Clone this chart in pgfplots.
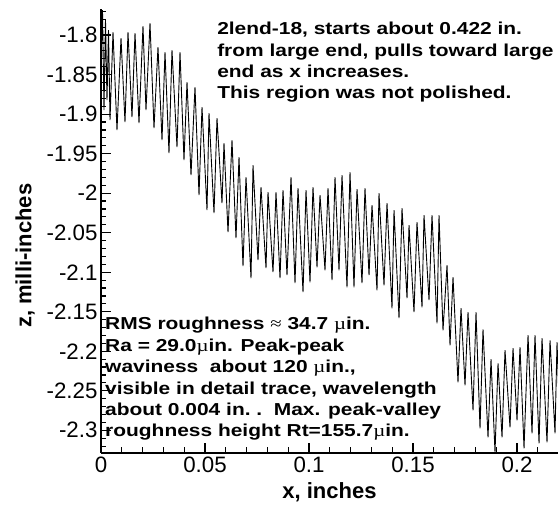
\documentclass[border=0pt]{standalone}
\usepackage{pgfplots}
\pgfplotsset{compat=1.18}
\usepackage{fontspec}
\setmainfont{Liberation Sans}
\newfontfamily\annfont[FakeStretch=1.21]{Liberation Sans}
\newfontfamily\symf[FakeStretch=1.2]{Liberation Serif}
\newcommand{\mus}{{\symf\mdseries µ}}
\newcommand{\apx}{{\symf\mdseries ≈}}
\begin{document}
\begin{tikzpicture}
\begin{axis}[name=ax, scale only axis, width=457pt, height=444pt,
  xmin=0, xmax=0.2197, ymin=-2.3287, ymax=-1.767,
  axis x line*=bottom, axis y line*=left,
  axis line style={-, line width=2pt},
  tick align=inside, major tick length=10pt, minor tick length=5.5pt,
  every tick/.style={black, line width=1.2pt},
  xtick={0,0.05,0.1,0.15,0.2}, xticklabels={0,0.05,0.1,0.15,0.2},
  ytick={-2.3,-2.25,-2.2,-2.15,-2.1,-2.05,-2,-1.95,-1.9,-1.85,-1.8},
  yticklabels={-2.3,-2.25,-2.2,-2.15,-2.1,-2.05,-2,-1.95,-1.9,-1.85,-1.8},
  minor xtick={0.01,0.02,0.03,0.04,0.06,0.07,0.08,0.09,0.11,0.12,0.13,0.14,0.16,0.17,0.18,0.19,0.21},
  minor ytick={-2.32,-2.31,-2.29,-2.28,-2.27,-2.26,-2.24,-2.23,-2.22,-2.21,-2.19,-2.18,-2.17,-2.16,-2.14,-2.13,-2.12,-2.11,-2.09,-2.08,-2.07,-2.06,-2.04,-2.03,-2.02,-2.01,-1.99,-1.98,-1.97,-1.96,-1.94,-1.93,-1.92,-1.91,-1.89,-1.88,-1.87,-1.86,-1.84,-1.83,-1.82,-1.81,-1.79,-1.78,-1.77},
  ticklabel style={font=\fontsize{22.3}{25}\selectfont},
  xlabel={x, inches}, ylabel={z, milli-inches},
  every axis x label/.style={at={(axis description cs:0.5,-0.088)}, anchor=center,
     font=\bfseries\fontsize{22}{25}\selectfont},
  every axis y label/.style={at={(axis description cs:-0.166,0.444)}, rotate=90, anchor=center,
     font=\bfseries\fontsize{22}{25}\selectfont},
  clip=true,
]
\addplot[black, line width=0.9pt] coordinates {
(0,-1.8316) (0.00072,-1.7684) (0.00144,-1.8949) (0.00216,-1.7810) (0.00288,-1.8823)
(0.00361,-1.7937) (0.00433,-1.9076) (0.00577,-1.7962) (0.00769,-1.9203) (0.00962,-1.8038)
(0.01154,-1.9101) (0.01298,-1.7962) (0.01490,-1.9038) (0.01635,-1.7975) (0.01827,-1.9114)
(0.02019,-1.7886) (0.02163,-1.8949) (0.02356,-1.7848) (0.02548,-1.9177) (0.02740,-1.8152)
(0.02933,-1.9329) (0.03077,-1.8215) (0.03269,-1.9494) (0.03413,-1.8190) (0.03654,-1.9418)
(0.03798,-1.8215) (0.03990,-1.9582) (0.04135,-1.8595) (0.04327,-1.9772) (0.04519,-1.8658)
(0.04712,-2.0025) (0.04856,-1.8911) (0.05096,-2.0215) (0.05192,-1.8987) (0.05433,-2.0253)
(0.05577,-1.9051) (0.05817,-2.0127) (0.05913,-1.9367) (0.06106,-2.0494) (0.06298,-1.9329)
(0.06490,-2.0570) (0.06635,-1.9544) (0.06827,-2.0924) (0.06971,-1.9797) (0.07212,-2.1076)
(0.07308,-1.9646) (0.07548,-2.0848) (0.07692,-1.9924) (0.07933,-2.0949) (0.08029,-1.9987)
(0.08269,-2.1000) (0.08413,-1.9987) (0.08606,-2.1076) (0.08750,-1.9962) (0.08942,-2.1038)
(0.09135,-1.9797) (0.09327,-2.1139) (0.09471,-1.9937) (0.09712,-2.1253) (0.09856,-1.9962)
(0.10048,-2.1127) (0.10192,-1.9924) (0.10385,-2.0937) (0.10529,-2.0025) (0.10769,-2.0975)
(0.10913,-1.9937) (0.11106,-2.1101) (0.11250,-1.9797) (0.11442,-2.0975) (0.11587,-1.9772)
(0.11827,-2.1190) (0.11971,-1.9734) (0.12163,-2.1190) (0.12308,-1.9949) (0.12548,-2.1139)
(0.12692,-1.9937) (0.12885,-2.1038) (0.13029,-2.0152) (0.13269,-2.1228) (0.13365,-2.0000)
(0.13606,-2.1165) (0.13750,-2.0127) (0.13990,-2.1456) (0.14087,-2.0215) (0.14327,-2.1582)
(0.14471,-2.0190) (0.14712,-2.1329) (0.14808,-2.0405) (0.15048,-2.1506) (0.15192,-2.0367)
(0.15433,-2.1443) (0.15529,-2.0278) (0.15769,-2.1354) (0.15913,-2.0278) (0.16154,-2.1646)
(0.16250,-2.0278) (0.16442,-2.1734) (0.16635,-2.0911) (0.16779,-2.1924) (0.16923,-2.1063)
(0.17163,-2.2392) (0.17308,-2.1456) (0.17500,-2.2430) (0.17644,-2.1506) (0.17885,-2.2747)
(0.18029,-2.1506) (0.18221,-2.2975) (0.18365,-2.1722) (0.18606,-2.3089) (0.18750,-2.2101)
(0.18942,-2.3278) (0.19087,-2.2152) (0.19279,-2.3089) (0.19423,-2.1987) (0.19663,-2.2962)
(0.19808,-2.1962) (0.20000,-2.2873) (0.20144,-2.1949) (0.20337,-2.3228) (0.20529,-2.1797)
(0.20721,-2.3038) (0.20865,-2.1797) (0.21058,-2.3165) (0.21202,-2.1835) (0.21442,-2.3152)
(0.21587,-2.1861) (0.21827,-2.3038) (0.21923,-2.1886) (0.2202,-2.262)
};
\node[anchor=north west, inner sep=0pt, align=left,
  font={\annfont\bfseries\fontsize{17.3}{21.4}\selectfont}]
  at (axis description cs:0.254,0.971)
  {2lend-18, starts about 0.422 in.\\from large end, pulls toward large\\end as x increases.\\This region was not polished.};
\node[anchor=north west, inner sep=0pt, align=left,
  font={\annfont\bfseries\fontsize{17.3}{21.4}\selectfont}]
  at (axis description cs:0.0088,0.306)
  {RMS roughness \apx\ 34.7 \mus in.\\Ra = 29.0\mus in. Peak-peak\\waviness\ \ about 120 \mus in.,\\visible in detail trace, wavelength\\about 0.004 in.\ .\ \ Max. peak-valley\\roughness height Rt=155.7\mus in.};
\end{axis}
\pgfresetboundingbox
\path ([shift={(-101pt,-53pt)}]ax.south west) rectangle ([shift={(0pt,9pt)}]ax.north east);
\end{tikzpicture}
\end{document}
